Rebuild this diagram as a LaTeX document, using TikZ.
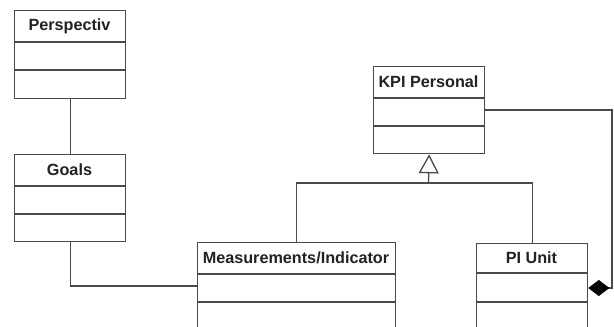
\documentclass[tikz,border=0pt]{standalone}
\usepackage{fontspec}
\setmainfont{Liberation Sans}
\usetikzlibrary{arrows.meta}
\definecolor{lc}{HTML}{4A4A4A}
\definecolor{tc}{HTML}{222222}
\tikzset{
  cls/.style={draw=lc, line width=1.3pt, fill=white, inner sep=0pt, anchor=north west},
  hdr/.style={inner sep=0pt, text=tc, font=\bfseries\fontsize{16.2}{18}\selectfont},
  conn/.style={draw=lc, line width=1.3pt},
}
\begin{document}
\begin{tikzpicture}[x=1pt,y=-1pt]
\useasboundingbox (0,0) rectangle (614,327);
\fill[white] (0,0) rectangle (614,327);
\begin{scope}
\clip (0,0) rectangle (614,327);
% Perspectiv
\node[cls, minimum width=111pt, minimum height=88pt] (pers) at (14,10) {};
\draw[conn] (14,42) -- (125,42) (14,70) -- (125,70);
\node[hdr] (persl) at (69.5,26) {Perspectiv};
% Goals
\node[cls, minimum width=111pt, minimum height=87pt] (goals) at (14,154) {};
\draw[conn] (14,186) -- (125,186) (14,214) -- (125,214);
\node[hdr] (goalsl) at (69.5,170) {Goals};
% Measurements/Indicator
\node[cls, minimum width=198pt, minimum height=110pt] (meas) at (197,242) {};
\draw[conn] (197,274) -- (395,274) (197,302) -- (395,302);
\node[hdr] (measl) at (296,258) {Measurements/Indicator};
% KPI Personal
\node[cls, minimum width=111pt, minimum height=87pt] (kpi) at (373,66) {};
\draw[conn] (373,98) -- (484,98) (373,126) -- (484,126);
\node[hdr] (kpil) at (428.5,82) {KPI Personal};
% PI Unit
\node[cls, minimum width=111pt, minimum height=110pt] (piu) at (476,243) {};
\draw[conn] (476,273) -- (587,273) (476,302) -- (587,302);
\node[hdr] (piul) at (531.5,258) {PI Unit};
% connectors
\draw[conn] (pers.south) -- (goals.north);
\draw[conn] (goals.south) |- (meas.west |- 0,286);
\coordinate (gen) at (428.5,183);
\draw[conn] (meas.north) |- (gen) -| (piu.north);
\draw[conn, -{Triangle[open, width=20pt, length=19pt, line width=1.3pt]}] (gen) -- (kpi.south);
\coordinate (cturn) at (612,288);
\draw[conn, {Diamond[width=16pt, length=21pt, fill=black, color=black, line width=0.5pt]}-] (piu.east |- cturn) -- (cturn) |- (kpi.east |- 0,110);
\end{scope}
\end{tikzpicture}
\end{document}
